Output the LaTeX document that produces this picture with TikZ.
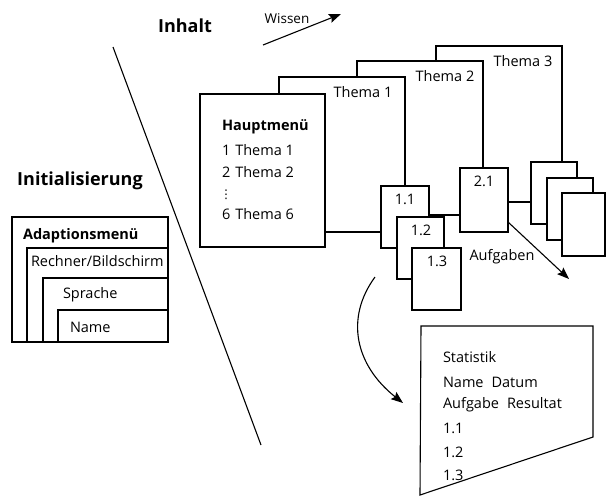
\documentclass[tikz,border=0pt]{standalone}
\usepackage{fontspec}
\setmainfont{Open Sans}
\newfontfamily\symfont{DejaVu Sans}
\usetikzlibrary{arrows.meta}
\begin{document}
\begin{tikzpicture}[x=1pt,y=-1pt,
  line width=1.1pt,
  every node/.style={inner sep=0pt, outer sep=0pt},
  txt/.style={font=\fontsize{14.5}{16}\selectfont},
  bold/.style={font=\fontsize{14.5}{16}\selectfont\bfseries},
  head/.style={font=\fontsize{18}{20}\selectfont\bfseries},
  card/.style={draw, fill=white, anchor=north west},
  tip/.style={-{Stealth[length=12pt,width=9pt,inset=2pt]}}]
\useasboundingbox (0,0) rectangle (607,496);

% headings
\node[head] (inhalt) at (185,26) {Inhalt};
\node[head] (init) at (80,181) {Initialisierung};
\node[font=\fontsize{13.5}{15}\selectfont] (wissen) at (287,19) {Wissen};
\coordinate (w0) at (263,45);
\coordinate (w1) at (341,14);
\draw[tip] (w0) -- (w1);

% dividing line
\coordinate (d0) at (113,47);
\coordinate (d1) at (261,445);
\draw (d0) -- (d1);

% adaption menu (nested cards)
\node[card, minimum width=156pt, minimum height=125pt] (ad0) at (12,217) {};
\node[card, minimum width=141pt, minimum height=94pt] (ad1) at (27,248) {};
\node[card, minimum width=125pt, minimum height=64pt] (ad2) at (43,278) {};
\node[card, minimum width=110pt, minimum height=32pt] (ad3) at (58,310) {};
\node[bold, anchor=west] (adt0) at (23,236) {Adaptionsmenü};
\node[txt, anchor=west] (adt1) at (31,261) {Rechner/Bildschirm};
\node[txt, anchor=west] (adt2) at (63,295) {Sprache};
\node[txt, anchor=west] (adt3) at (70,327) {Name};

% topic tabs
\coordinate (t1a) at (279,93);  \coordinate (t1b) at (279,77);
\coordinate (t1c) at (405,77);  \coordinate (t1d) at (405,186);
\coordinate (t2a) at (357,77);  \coordinate (t2b) at (357,61);
\coordinate (t2c) at (483,61);  \coordinate (t2d) at (483,168);
\coordinate (t3a) at (436,61);  \coordinate (t3b) at (436,46);
\coordinate (t3c) at (562,46);  \coordinate (t3d) at (562,162);
\draw (t1a) -- (t1b) -- (t1c) -- (t1d);
\draw (t2a) -- (t2b) -- (t2c) -- (t2d);
\draw (t3a) -- (t3b) -- (t3c) -- (t3d);
\node[txt] (th1) at (363,92) {Thema 1};
\node[txt] (th2) at (445,76) {Thema 2};
\node[txt] (th3) at (523,61) {Thema 3};

% main menu
\node[card, minimum width=125pt, minimum height=153pt] (hm) at (200,94) {};
\node[bold, anchor=west] (hmt) at (222,127) {Hauptmenü};
\node[txt, anchor=west] (hm1) at (222,150) {1\hspace{5pt}Thema 1};
\node[txt, anchor=west] (hm2) at (222,172) {2\hspace{5pt}Thema 2};
\node[font=\fontsize{12}{12}\selectfont\symfont, anchor=west] (hmd) at (220,195) {⋮};
\node[txt, anchor=west] (hm6) at (222,214) {6\hspace{5pt}Thema 6};

% tasks of topic 1
\node[card, minimum width=48pt, minimum height=62pt] (b11) at (381,186) {};
\node[card, minimum width=47pt, minimum height=62pt] (b12) at (397,217) {};
\node[card, minimum width=49pt, minimum height=62pt] (b13) at (412,248) {};
\node[txt] (l11) at (405,199) {1.1};
\node[txt] (l12) at (421,230) {1.2};
\node[txt] (l13) at (437,261) {1.3};

% task of topic 2
\node[card, minimum width=48pt, minimum height=64pt] (b21) at (460,168) {};
\node[txt] (l21) at (484,181) {2.1};

% tasks of topic 3
\node[card, minimum width=46pt, minimum height=62pt] (b31) at (531,162) {};
\node[card, minimum width=46pt, minimum height=62pt] (b32) at (547,178) {};
\node[card, minimum width=43pt, minimum height=63pt] (b33) at (562,193) {};

% links between menus and tasks
\draw ([yshift=15pt]hm.south east) coordinate (h0) -- (h0 -| b11.west);
\draw ([yshift=33pt]b11.south east) coordinate (k0) -- (k0 -| b21.west);
\draw ([yshift=30pt]b21.south east) coordinate (k1) -- (k1 -| b31.west);

% tasks arrow
\node[txt] (aufg) at (502,257) {Aufgaben};
\coordinate (a1) at (569,279);
\draw[tip] ([yshift=10pt]b21.south east) -- (a1);

% statistics sheet
\coordinate (s0) at (421,326);
\coordinate (s1) at (593,326);
\coordinate (s2) at (593,437);
\coordinate (s3) at (420,495);
\draw (s0) -- (s1) -- (s2) -- (s3) -- cycle;
\node[txt, anchor=west] (st0) at (443,357) {Statistik};
\node[txt, anchor=west] (st1) at (443,382) {Name\hspace{8pt}Datum};
\node[txt, anchor=west] (st2) at (443,405) {Aufgabe\hspace{8pt}Resultat};
\node[txt, anchor=west] (st3) at (443,428) {1.1};
\node[txt, anchor=west] (st4) at (443,452) {1.2};
\node[txt, anchor=west] (st5) at (443,475) {1.3};

% results go to the statistics
\coordinate (c0) at (375,277);
\coordinate (c1) at (403,403);
\draw[tip] (c0) .. controls (345,318) and (355,365) .. (c1);
\end{tikzpicture}
\end{document}
